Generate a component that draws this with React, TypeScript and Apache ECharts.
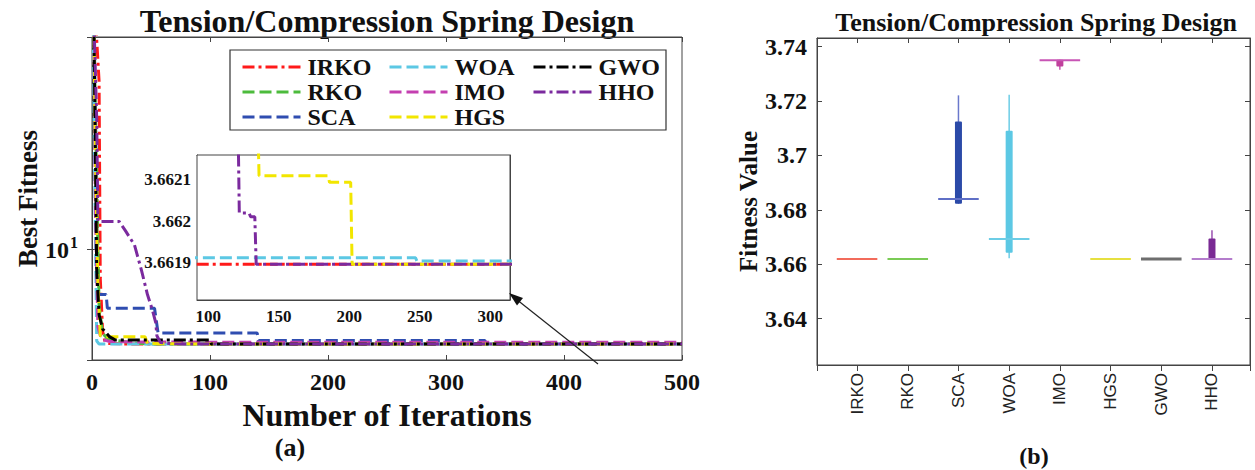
import React, { useEffect, useRef } from 'react';
import * as echarts from 'echarts';

// ---------- data ----------
const algorithms = ['IRKO', 'RKO', 'SCA', 'WOA', 'IMO', 'HGS', 'GWO', 'HHO'];
const lineColors = ['#ff1a1a', '#4cbb3c', '#2f4db0', '#5cc8e4', '#c43fb0', '#f2e600', '#000000', '#7b2a9e'];
const lineDashes = ['dashdot', 'dashed', 'dashed', 'dashed', 'dashed', 'dashed', 'dashdot', 'dashdot'];

// convergence curves: [iteration, best fitness]
const irkoCurve = [[1, 180], [6, 60], [7, 7.4], [9, 4.2], [11, 3.75], [15, 3.68], [30, 3.663], [60, 3.66192], [90, 3.661896], [500, 3.661896]];
const rkoCurve = [[1, 150], [4, 20], [6, 5.5], [9, 4.1], [14, 3.85], [24, 3.78], [35, 3.7], [50, 3.666], [120, 3.6625], [500, 3.6623]];
const scaCurve = [[1, 200], [3, 40], [5, 6.2], [12, 6.2], [13, 5.36], [53, 5.36], [56, 4.12], [140, 4.12], [141, 3.8], [333, 3.8], [334, 3.684], [500, 3.684]];
const woaCurve = [[1, 120], [2, 30], [4, 3.78], [6, 3.666], [20, 3.6625], [60, 3.661912], [247, 3.661912], [248, 3.661904], [500, 3.661904]];
const imoCurve = [[1, 200], [3, 14], [5, 4.4], [8, 3.85], [15, 3.76], [40, 3.745], [100, 3.736], [500, 3.735]];
const hgsCurve = [[1, 200], [3, 25], [5, 7], [7, 4.0], [12, 3.96], [45, 3.96], [47, 3.68], [100, 3.665], [135, 3.665], [136, 3.66211], [185, 3.66211], [186, 3.662094], [201, 3.662094], [202, 3.661896], [500, 3.661896]];
const gwoCurve = [[1, 200], [3, 25], [4, 8], [6, 5.0], [9, 4.3], [15, 3.95], [20, 3.82], [100, 3.82], [101, 3.6625], [500, 3.6623]];
const hhoCurve = [[1, 150], [4, 40], [5, 13.5], [23, 13.5], [28, 12.3], [36, 10.5], [42, 8.0], [47, 6.2], [51, 5.3], [54, 4.6], [55, 4.0], [58, 3.72], [70, 3.67], [100, 3.6624], [121, 3.6624], [122, 3.66202], [129, 3.66202], [130, 3.662011], [133, 3.662011], [134, 3.661896], [500, 3.661896]];
const curves = [irkoCurve, rkoCurve, scaCurve, woaCurve, imoCurve, hgsCurve, gwoCurve, hhoCurve];

// legend columns
const legendCol1 = ['IRKO', 'RKO', 'SCA'];
const legendCol2 = ['WOA', 'IMO', 'HGS'];
const legendCol3 = ['GWO', 'HHO'];

// boxplot statistics
const boxMin = [3.6619, 3.6619, 3.6822, 3.6622, 3.7315, 3.6619, 3.6619, 3.6619];
const boxQ1 = [3.6619, 3.6619, 3.6822, 3.6642, 3.7327, 3.6619, 3.6619, 3.6619];
const boxMedian = [3.6619, 3.6619, 3.684, 3.6693, 3.735, 3.6619, 3.6619, 3.6619];
const boxQ3 = [3.6619, 3.6619, 3.7125, 3.7091, 3.7352, 3.6619, 3.6619, 3.6694];
const boxMax = [3.6619, 3.6619, 3.7221, 3.7223, 3.7352, 3.6619, 3.6619, 3.6725];
const boxColors = ['#f26b5b', '#7acb55', '#2b4aa8', '#5cc8e4', '#c0409c', '#e6e040', '#6e6e6e', '#7a2a94'];
const medianColors = ['#f26b5b', '#7acb55', '#5f6fc6', '#6ccde6', '#c855b5', '#e6e040', '#6e6e6e', '#b47ccc'];
const whiskerColors = ['#f26b5b', '#7acb55', '#6a78cc', '#6ccde6', '#c855b5', '#e6e040', '#6e6e6e', '#9a50b0'];
const medianWidths = [2, 2, 2, 2, 2, 2, 3, 2];

// inset window
const insetX = [92, 314];
const insetY = [3.66181, 3.66216];

const SERIF = "'Liberation Serif', 'Times New Roman', serif";
const SANS = "'Liberation Sans', Arial, sans-serif";

function dashOf(kind: string) {
  return kind === 'dashdot' ? [12, 4, 3, 4] : [12, 5];
}

export default function App() {
  const ref = useRef<HTMLDivElement>(null);
  useEffect(() => {
    if (!ref.current) return;
    const chart = echarts.init(ref.current, undefined, { renderer: 'svg' });

    const axisLine = { show: true, lineStyle: { color: '#444', width: 1 } };
    const tickIn = { show: true, inside: true, length: 5, lineStyle: { color: '#444' } };

    const mainSeries = algorithms.map((name, i) => ({
      type: 'line',
      name,
      xAxisIndex: 0,
      yAxisIndex: 0,
      data: curves[i],
      symbol: 'none',
      lineStyle: { color: lineColors[i], width: 3, type: dashOf(lineDashes[i]) },
      itemStyle: { color: lineColors[i] },
      z: 2 + i * 0.1,
    }));
    // same curves, seen through the inset window (values far above the window are
    // held just above its top edge, which is clipped away anyway)
    const cap = insetY[1] + (insetY[1] - insetY[0]) * 0.3;
    const insetSeries = algorithms.map((name, i) => ({
      type: 'line',
      name,
      xAxisIndex: 2,
      yAxisIndex: 2,
      data: curves[i].filter((p) => p[0] >= 60).map((p) => [p[0], Math.min(p[1], cap)]),
      symbol: 'none',
      clip: true,
      lineStyle: { color: lineColors[i], width: 3, type: dashOf(lineDashes[i]) },
      itemStyle: { color: lineColors[i] },
      z: 6 + i * 0.1,
    }));

    const boxData = algorithms.map((_, i) => [i + 1, boxMin[i], boxQ1[i], boxMedian[i], boxQ3[i], boxMax[i]]);

    const legendBase = {
      orient: 'vertical',
      itemWidth: 58,
      itemHeight: 14,
      itemGap: 1,
      selectedMode: false,
      z: 10,
      itemStyle: { color: 'rgba(0,0,0,0)', borderWidth: 0, opacity: 0 },
      lineStyle: { width: 3 },
      textStyle: { fontFamily: SERIF, fontWeight: 'bold', fontSize: 24, color: '#111', lineHeight: 24, padding: [0, 0, 0, 2] },
    };

    const yLabelFmt = (v: number) => {
      const k = v / 0.02;
      if (Math.abs(k - Math.round(k)) > 1e-6) return '';
      return String(+v.toFixed(2));
    };

    chart.setOption({
      animation: false,
      backgroundColor: '#fff',
      grid: [
        { left: 92, top: 37, width: 590, height: 323, show: true, borderColor: '#444', borderWidth: 1, backgroundColor: 'transparent' },
        { left: 197, top: 155, width: 313, height: 145, show: true, borderColor: '#444', borderWidth: 1, backgroundColor: '#fff', z: 5 },
        { left: 817, top: 38, width: 433, height: 327, show: true, borderColor: '#444', borderWidth: 1, backgroundColor: 'transparent' },
      ],
      legend: [
        { ...legendBase, left: 236, top: 50, data: legendCol1 },
        { ...legendBase, left: 383, top: 50, data: legendCol2 },
        { ...legendBase, left: 527, top: 50, data: legendCol3 },
      ],
      xAxis: [
        {
          gridIndex: 0, type: 'value', min: 0, max: 500, interval: 100,
          axisLine, axisTick: tickIn, splitLine: { show: false },
          axisLabel: { fontFamily: SERIF, fontWeight: 'bold', fontSize: 24, color: '#111', margin: 10 },
          name: 'Number of Iterations', nameLocation: 'middle', nameGap: 32,
          nameTextStyle: { fontFamily: SERIF, fontWeight: 'bold', fontSize: 32, color: '#111' },
        },
        { gridIndex: 0, type: 'value', position: 'top', min: 0, max: 500, interval: 100, axisLine, axisTick: tickIn, axisLabel: { show: false }, splitLine: { show: false } },
        {
          gridIndex: 1, type: 'value', min: insetX[0], max: insetX[1], splitNumber: 4,
          axisLine, axisTick: { ...tickIn, length: 4 }, splitLine: { show: false },
          axisLabel: {
            fontFamily: SERIF, fontWeight: 'bold', fontSize: 17, color: '#111', margin: 8,
            formatter: (v: number) => (Math.abs(v / 50 - Math.round(v / 50)) < 1e-6 ? String(Math.round(v)) : ''),
          },
        },
        { gridIndex: 1, type: 'value', position: 'top', min: insetX[0], max: insetX[1], splitNumber: 4, axisLine, axisTick: { ...tickIn, length: 4 }, axisLabel: { show: false }, splitLine: { show: false } },
        {
          gridIndex: 2, type: 'value', min: 0.21, max: 8.75, splitNumber: 8,
          axisLine, axisTick: { ...tickIn, inside: false, length: 6 }, splitLine: { show: false },
          axisLabel: {
            rotate: 90, fontFamily: SANS, fontSize: 17, color: '#222', margin: 8,
            formatter: (v: number) => (Math.abs(v - Math.round(v)) < 1e-6 && v >= 1 && v <= 8 ? algorithms[Math.round(v) - 1] : ''),
          },
        },
        { gridIndex: 2, type: 'value', position: 'top', min: 0.21, max: 8.75, splitNumber: 8, axisLine, axisTick: tickIn, axisLabel: { show: false }, splitLine: { show: false } },
      ],
      yAxis: [
        {
          gridIndex: 0, type: 'log', logBase: 10, min: 3.09, max: 96,
          axisLine, axisTick: tickIn, splitLine: { show: false },
          axisLabel: {
            margin: 14,
            formatter: (v: number) => (Math.abs(v - 10) < 0.01 ? '{a|10}{b|1}' : ''),
            rich: {
              a: { fontFamily: SERIF, fontWeight: 'bold', fontSize: 24, color: '#111' },
              b: { fontFamily: SERIF, fontWeight: 'bold', fontSize: 16, color: '#111', padding: [0, 0, 14, 1] },
            },
          },
          name: 'Best Fitness', nameLocation: 'middle', nameGap: 50,
          nameTextStyle: { fontFamily: SERIF, fontWeight: 'bold', fontSize: 27, color: '#111' },
        },
        { gridIndex: 0, type: 'log', logBase: 10, position: 'right', min: 3.09, max: 96, axisLine, axisTick: tickIn, axisLabel: { show: false }, splitLine: { show: false } },
        {
          gridIndex: 1, type: 'value', min: insetY[0], max: insetY[1], splitNumber: 4,
          axisLine, axisTick: { ...tickIn, length: 4 }, splitLine: { show: false },
          axisLabel: {
            fontFamily: SERIF, fontWeight: 'bold', fontSize: 17, color: '#111', margin: 6,
            formatter: (v: number) => {
              const k = v / 0.0001;
              return Math.abs(k - Math.round(k)) < 1e-4 ? String(+v.toFixed(4)) : '';
            },
          },
        },
        { gridIndex: 1, type: 'value', position: 'right', min: insetY[0], max: insetY[1], splitNumber: 4, axisLine, axisTick: { ...tickIn, length: 4 }, axisLabel: { show: false }, splitLine: { show: false } },
        {
          gridIndex: 2, type: 'value', min: 3.6229, max: 3.7432, splitNumber: 6,
          axisLine, axisTick: tickIn, splitLine: { show: false },
          axisLabel: { fontFamily: SERIF, fontWeight: 'bold', fontSize: 24, color: '#111', margin: 10, formatter: yLabelFmt },
          name: 'Fitness Value', nameLocation: 'middle', nameGap: 54,
          nameTextStyle: { fontFamily: SERIF, fontWeight: 'bold', fontSize: 25, color: '#111' },
        },
        { gridIndex: 2, type: 'value', position: 'right', min: 3.6229, max: 3.7432, splitNumber: 6, axisLine, axisTick: tickIn, axisLabel: { show: false }, splitLine: { show: false } },
      ],
      series: [
        ...mainSeries,
        ...insetSeries,
        {
          type: 'custom',
          name: 'boxes',
          xAxisIndex: 4,
          yAxisIndex: 4,
          data: boxData,
          encode: { x: 0, y: [1, 2, 3, 4, 5] },
          renderItem: (params: any, api: any) => {
            const i = params.dataIndex;
            const x = api.value(0);
            const pMin = api.coord([x, api.value(1)]);
            const pQ1 = api.coord([x, api.value(2)]);
            const pMed = api.coord([x, api.value(3)]);
            const pQ3 = api.coord([x, api.value(4)]);
            const pMax = api.coord([x, api.value(5)]);
            const half = api.size([0.4, 0])[0];
            const children: any[] = [];
            if (pMin[1] - pMax[1] > 0.5) {
              children.push({ type: 'line', shape: { x1: pMin[0], y1: pMin[1], x2: pMax[0], y2: pMax[1] }, style: { stroke: whiskerColors[i], lineWidth: 1.5 } });
            }
            if (pQ1[1] - pQ3[1] > 0.5) {
              children.push({ type: 'rect', shape: { x: pQ3[0] - 3.5, y: pQ3[1], width: 7, height: pQ1[1] - pQ3[1], r: 1 }, style: { fill: boxColors[i] } });
            }
            children.push({ type: 'line', shape: { x1: pMed[0] - half, y1: pMed[1], x2: pMed[0] + half, y2: pMed[1] }, style: { stroke: medianColors[i], lineWidth: medianWidths[i] } });
            return { type: 'group', children };
          },
        },
      ],
      graphic: {
        elements: [
          { type: 'rect', z: 3, shape: { x: 230, y: 50, width: 436, height: 80 }, style: { fill: '#fff', stroke: '#333', lineWidth: 1.2 } },
          { type: 'text', x: 387, y: 21, style: { text: 'Tension/Compression Spring Design', fontFamily: SERIF, fontWeight: 'bold', fontSize: 32, fill: '#111', align: 'center', verticalAlign: 'middle' } },
          { type: 'text', x: 1036, y: 22, style: { text: 'Tension/Compression Spring Design', fontFamily: SERIF, fontWeight: 'bold', fontSize: 26, fill: '#111', align: 'center', verticalAlign: 'middle' } },
          { type: 'text', x: 290, y: 447, style: { text: '(a)', fontFamily: SERIF, fontWeight: 'bold', fontSize: 26, fill: '#111', align: 'center', verticalAlign: 'middle' } },
          { type: 'text', x: 1034, y: 456, style: { text: '(b)', fontFamily: SERIF, fontWeight: 'bold', fontSize: 24, fill: '#111', align: 'center', verticalAlign: 'middle' } },
          { type: 'line', z: 20, shape: { x1: 598, y1: 364, x2: 516, y2: 299 }, style: { stroke: '#222', lineWidth: 1.2 } },
          { type: 'polygon', z: 20, shape: { points: [[509, 293], [523, 298], [517, 305.5]] }, style: { fill: '#111' } },
        ],
      },
    } as any);

    return () => chart.dispose();
  }, []);

  return <div ref={ref} style={{ position: 'fixed', left: 0, top: 0, width: 1255, height: 470, background: '#fff' }} />;
}
